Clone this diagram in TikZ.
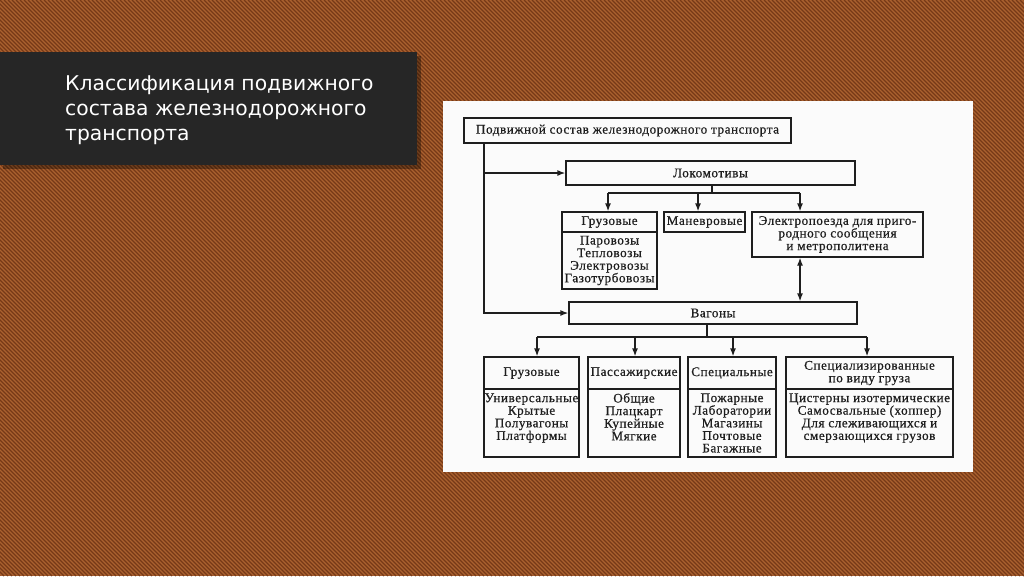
\documentclass[tikz,border=0pt]{standalone}
\usepackage{fontspec}
\setmainfont{Liberation Serif}
\newfontfamily\diagfont[LetterSpace=4,FakeBold=0.6]{Liberation Serif}
\newfontfamily\titlefont{DejaVu Sans}
\usetikzlibrary{arrows.meta}
\definecolor{bgbase}{HTML}{AA612F}
\definecolor{bgstripe}{HTML}{763917}
\definecolor{titlebg}{HTML}{262626}
\definecolor{ink}{HTML}{1E1E1E}
\definecolor{panel}{HTML}{FBFBFB}
\tikzset{
  box/.style={draw=ink, line width=1.3pt, inner sep=0pt, align=center, text=ink,
    font=\diagfont\fontsize{13.2}{12.6}\selectfont},
  arr/.style={draw=ink, line width=1.3pt, -{Latex[length=8pt,width=6pt]}},
  arrtwo/.style={draw=ink, line width=1.3pt, {Latex[length=8pt,width=6pt]}-{Latex[length=8pt,width=6pt]}},
  ln/.style={draw=ink, line width=1.3pt},
}
\begin{document}
\begin{tikzpicture}[x=1pt,y=-1pt]
\useasboundingbox (0,0) rectangle (1024,576);
% background
\fill[bgbase] (0,0) rectangle (1024,576);
\begin{scope}
  \clip (0,0) rectangle (1024,576);
  \foreach \i in {-580,-576,...,1024} \draw[bgstripe, line width=1.2pt] (\i,0) -- (\i+576,576);
\end{scope}
% title band
\fill[black, opacity=0.35] (3,56) rectangle (421,169);
\fill[titlebg] (0,52) rectangle (417,165);
\node[anchor=base west, text=white, font=\titlefont\fontsize{20.3}{25}\selectfont, align=left, inner sep=0pt] (title) at (65,140)
  {Классификация подвижного\\состава железнодорожного\\транспорта};
% white panel
\fill[panel] (443,101) rectangle (973,472);
% nodes
\node[box, minimum width=327pt, minimum height=25pt] (top) at (627.5,130.5) {Подвижной состав железнодорожного транспорта};
\node[box, minimum width=289pt, minimum height=24pt] (lok) at (710.5,173) {Локомотивы};
\node[box, minimum width=95pt, minimum height=20pt] (lgr) at (609.5,222) {Грузовые};
\node[box, minimum width=95pt, minimum height=57pt] (lgrl) at (609.5,260.5) {Паровозы\\Тепловозы\\Электровозы\\Газотурбовозы};
\node[box, minimum width=81pt, minimum height=20pt] (man) at (704.5,222) {Маневровые};
\node[box, minimum width=171pt, minimum height=45pt] (el) at (837.5,234.5) {Электропоезда для приго-\\родного сообщения\\и метрополитена};
\node[box, minimum width=288pt, minimum height=22pt] (vag) at (713,313) {Вагоны};
\node[box, minimum width=95pt, minimum height=32pt] (wgr) at (531.5,373) {Грузовые};
\node[box, minimum width=95pt, minimum height=68pt] (wgrl) at (531.5,423) {Универсальные\\Крытые\\Полувагоны\\Платформы\\\phantom{П}};
\node[box, minimum width=92pt, minimum height=32pt] (wps) at (634,373) {Пассажирские};
\node[box, minimum width=92pt, minimum height=68pt] (wpsl) at (634,423) {Общие\\Плацкарт\\Купейные\\Мягкие\\\phantom{М}};
\node[box, minimum width=88pt, minimum height=32pt] (wsp) at (732,373) {Специальные};
\node[box, minimum width=88pt, minimum height=68pt] (wspl) at (732,423) {Пожарные\\Лаборатории\\Магазины\\Почтовые\\Багажные};
\node[box, minimum width=167pt, minimum height=32pt] (wsz) at (869.5,373) {Специализированные\\по виду груза};
\node[box, minimum width=167pt, minimum height=68pt] (wszl) at (869.5,423) {Цистерны изотермические\\Самосвальные (хоппер)\\Для слеживающихся и\\смерзающихся грузов\\\phantom{с}};
% trunk
\coordinate (trunk) at (484,0);
\draw[arr] (top.south -| trunk) |- (vag.west);
\draw[arr] (trunk |- lok.west) -- (lok.west);
% locomotive branch
\coordinate (a0) at (712,193);
\coordinate (a1) at (608,193);
\coordinate (a2) at (698,193);
\coordinate (a3) at (800,193);
\draw[ln] (a0 |- lok.south) -- (a0);
\draw[ln] (a1) -- (a3);
\draw[arr] (a1) -- (a1 |- lgr.north);
\draw[arr] (a2) -- (a2 |- man.north);
\draw[arr] (a3) -- (a3 |- el.north);
\draw[arrtwo] (a3 |- el.south) -- (a3 |- vag.north);
% wagon branch
\coordinate (v0) at (707,337);
\coordinate (b1) at (537,337);
\coordinate (b2) at (635,337);
\coordinate (b3) at (733,337);
\coordinate (b4) at (867,337);
\draw[ln] (v0 |- vag.south) -- (v0);
\draw[ln] (b1) -- (b4);
\draw[arr] (b1) -- (b1 |- wgr.north);
\draw[arr] (b2) -- (b2 |- wps.north);
\draw[arr] (b3) -- (b3 |- wsp.north);
\draw[arr] (b4) -- (b4 |- wsz.north);
\end{tikzpicture}
\end{document}
